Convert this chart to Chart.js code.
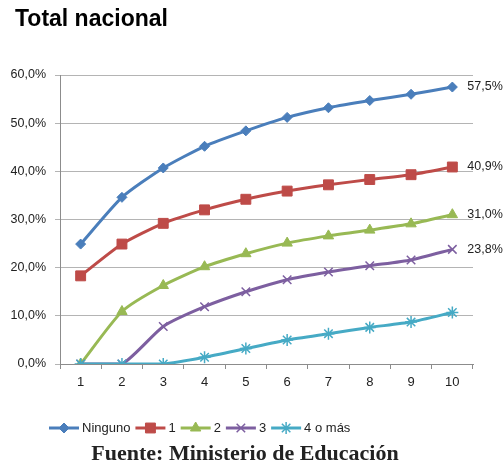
<!DOCTYPE html>
<html>
<head>
<meta charset="utf-8">
<script src="https://cdn.jsdelivr.net/npm/chart.js@4"></script>
<style>
  html, body { margin: 0; padding: 0; background: #fff; }
  #wrap { position: relative; width: 503px; height: 466px; }
  #title { position: absolute; left: 15px; top: 5px; font: bold 23px "Liberation Sans", Arial, sans-serif; color: #000; }
  #source { position: absolute; left: 0; width: 490px; top: 440px; text-align: center; font: bold 22px "Liberation Serif", "Times New Roman", serif; color: #222; }
  canvas { position: absolute; left: 0; top: 0; }
</style>
</head>
<body>
<div id="wrap">
  <canvas id="chart" width="503" height="466"></canvas>
  <div id="title">Total nacional</div>
  <div id="source">Fuente: Ministerio de Educación</div>
</div>
<script>
// Data
const categories = ['1', '2', '3', '4', '5', '6', '7', '8', '9', '10'];
const seriesNames = ['Ninguno', '1', '2', '3', '4 o más'];
const ninguno = [24.9, 34.6, 40.7, 45.2, 48.4, 51.2, 53.2, 54.7, 56.0, 57.5];
const uno = [18.3, 24.9, 29.2, 32.0, 34.2, 35.9, 37.2, 38.3, 39.3, 40.9];
const dos = [0, 10.9, 16.3, 20.2, 22.9, 25.1, 26.6, 27.8, 29.1, 31.0];
const tres = [0, 0, 7.8, 11.9, 15.0, 17.5, 19.1, 20.4, 21.6, 23.8];
const cuatroOMas = [0, 0, 0, 1.4, 3.2, 5.0, 6.3, 7.6, 8.7, 10.7];
const endLabels = ['57,5%', '40,9%', '31,0%', '23,8%', null];
const yTicks = [0, 10, 20, 30, 40, 50, 60];

const colors = ['#4a7ebb', '#be4b48', '#98b954', '#7d5fa0', '#46aac5'];
const styles = ['rectRot', 'rect', 'triangle', 'crossRot', 'star'];
const radii = [5, 7, 6, 6, 6];
const allData = [ninguno, uno, dos, tres, cuatroOMas];

const datasets = allData.map((d, i) => ({
  label: seriesNames[i],
  data: d,
  borderColor: colors[i],
  backgroundColor: colors[i],
  pointBackgroundColor: colors[i],
  pointBorderColor: colors[i],
  pointStyle: styles[i],
  pointRadius: radii[i],
  pointBorderWidth: i > 2 ? 1.5 : 1,
  borderWidth: 3,
  tension: 0.2,
  order: 5 - i
}));

// draws the end-of-line value labels
const endLabelPlugin = {
  id: 'endLabels',
  afterDatasetsDraw(chart) {
    const ctx = chart.ctx;
    ctx.save();
    ctx.font = '12.5px "Liberation Sans", Arial, sans-serif';
    ctx.fillStyle = '#222';
    ctx.textBaseline = 'middle';
    chart.data.datasets.forEach((ds, i) => {
      if (!endLabels[i]) return;
      const pts = chart.getDatasetMeta(i).data;
      const p = pts[pts.length - 1];
      ctx.fillText(endLabels[i], p.x + 15, p.y);
    });
    ctx.restore();
  }
};

// legend: line with marker, like the spreadsheet one
const legendPlugin = {
  id: 'lineLegend',
  afterDraw(chart) {
    const ctx = chart.ctx;
    ctx.save();
    ctx.font = '13px "Liberation Sans", Arial, sans-serif';
    ctx.textBaseline = 'middle';
    let x = 49;
    const y = 428;
    chart.data.datasets.forEach((ds, i) => {
      ctx.strokeStyle = ds.borderColor;
      ctx.lineWidth = 3;
      ctx.beginPath();
      ctx.moveTo(x, y);
      ctx.lineTo(x + 30, y);
      ctx.stroke();
      ctx.fillStyle = ds.borderColor;
      ctx.lineWidth = ds.pointBorderWidth;
      Chart.helpers.drawPoint(ctx, { pointStyle: ds.pointStyle, radius: ds.pointRadius, rotation: 0, borderWidth: ds.pointBorderWidth }, x + 15, y);
      x += 33;
      ctx.fillStyle = '#222';
      ctx.fillText(ds.label, x, y);
      x += ctx.measureText(ds.label).width + 5;
    });
    ctx.restore();
  }
};

new Chart(document.getElementById('chart'), {
  type: 'line',
  data: { labels: categories, datasets: datasets },
  plugins: [endLabelPlugin, legendPlugin],
  options: {
    responsive: false,
    animation: false,
    layout: { padding: { left: 0, right: 30, top: 75, bottom: 0 } },
    plugins: {
      legend: { display: false },
      tooltip: { enabled: false }
    },
    scales: {
      x: {
        offset: true,
        grid: { display: true, drawOnChartArea: false, drawTicks: true, tickLength: 5, color: '#8c8c8c', offset: true },
        border: { display: true, color: '#8c8c8c', width: 1 },
        ticks: { color: '#222', padding: 6, font: { size: 13, family: '"Liberation Sans", Arial, sans-serif' } },
        afterFit(scale) { scale.height = 102; }
      },
      y: {
        min: 0,
        max: 60,
        afterBuildTicks(scale) { scale.ticks = yTicks.map(v => ({ value: v })); },
        grid: { color: '#b4b4b4', lineWidth: 1, drawTicks: true, tickLength: 5 },
        border: { display: true, color: '#8c8c8c', width: 1 },
        ticks: {
          color: '#222',
          padding: 9,
          font: { size: 12.5, family: '"Liberation Sans", Arial, sans-serif' },
          callback: v => v.toFixed(1).replace('.', ',') + '%'
        },
        afterFit(scale) { scale.width = 60; }
      }
    }
  }
});
</script>
</body>
</html>
